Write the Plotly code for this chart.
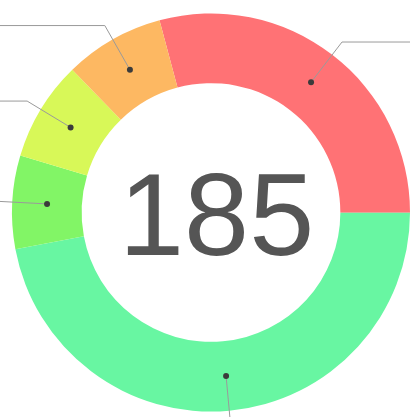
import math
import plotly.graph_objects as go

# Data
categories = ["Red", "Green", "Light green", "Yellow", "Orange"]
values = [54, 87, 14, 15, 15]
colors = ["#FF7275", "#68F6A2", "#82F566", "#D8F858", "#FDB862"]
center_text = "185"

W, H = 410, 417
CX, CY = 211, 212.5      # pie center in pixels (from top-left)
R_OUT = 199
HOLE = 0.65
START = -15              # degrees, clockwise from 12 o'clock


def px(x, y):
    """pixel offset from pie centre (y up) -> paper coords"""
    return (CX + x) / W, (H - CY + y) / H


fig = go.Figure()

fig.add_trace(go.Pie(
    labels=categories, values=values, sort=False, direction="clockwise",
    rotation=START, hole=HOLE, textinfo="none", hoverinfo="label+value",
    marker=dict(colors=colors, line=dict(width=0)),
    domain=dict(x=[(CX - R_OUT) / W, (CX + R_OUT) / W],
                y=[(H - CY - R_OUT) / H, (H - CY + R_OUT) / H]),
    showlegend=False,
))

# leader lines computed from slice mid-angles
total = sum(values)
r_mid = R_OUT * (1 + HOLE) / 2
r_elbow = R_OUT + 16
horiz = 140
acc = 0
shapes = []
for v in values:
    mid = math.radians(START + (acc + v / 2) / total * 360)
    acc += v
    sx, sy = r_mid * math.sin(mid), r_mid * math.cos(mid)
    ex, ey = r_elbow * math.sin(mid), r_elbow * math.cos(mid)
    hx = ex + (horiz if math.sin(mid) >= 0 else -horiz)
    p = [px(sx, sy), px(ex, ey), px(hx, ey)]
    path = "M {:.5f},{:.5f} L {:.5f},{:.5f} L {:.5f},{:.5f}".format(
        p[0][0], p[0][1], p[1][0], p[1][1], p[2][0], p[2][1])
    shapes.append(dict(type="path", path=path, xref="paper", yref="paper",
                       line=dict(color="#9a9a9a", width=1), layer="above"))
    c = px(sx, sy)
    shapes.append(dict(type="circle", xref="paper", yref="paper",
                       x0=c[0] - 3 / W, x1=c[0] + 3 / W,
                       y0=c[1] - 3 / H, y1=c[1] + 3 / H,
                       fillcolor="#3b3b3b", line=dict(width=0), layer="above"))

ax, ay = px(5, 0)
fig.add_annotation(text=center_text, x=ax, y=ay, xref="paper", yref="paper",
                   showarrow=False, yshift=-2,
                   font=dict(family="Liberation Sans, Arial, sans-serif",
                             size=117, color="#555555"))

fig.update_layout(
    width=W, height=H, margin=dict(l=0, r=0, t=0, b=0),
    paper_bgcolor="white", shapes=shapes,
)

fig.write_html("out.html", config={"displayModeBar": False},
               post_script="document.body.style.margin='0';"
                           "document.body.style.overflow='hidden';")
